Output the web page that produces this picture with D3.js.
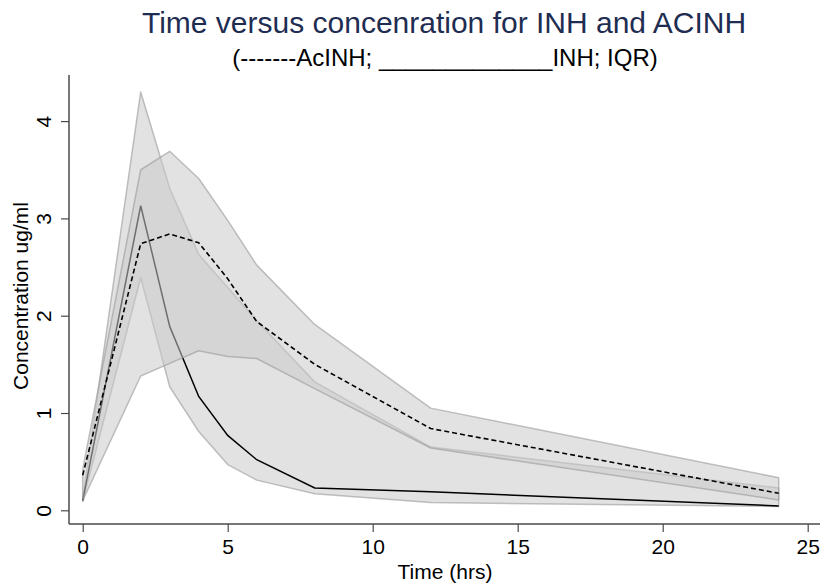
<!DOCTYPE html>
<html>
<head>
<meta charset="utf-8">
<script src="https://cdn.jsdelivr.net/npm/d3@7/dist/d3.min.js"></script>
<style>
  body { margin: 0; background: #fff; }
  text { font-family: "Liberation Sans", Arial, sans-serif; }
</style>
</head>
<body>
<script>
// sampling times (hrs)
const time = [0, 2, 3, 4, 5, 6, 8, 12, 24]

// INH: median and interquartile range
const inhMedian = [0.1, 3.13, 1.89, 1.17, 0.77, 0.52, 0.23, 0.19, 0.045]
const inhQ1 = [0.09, 2.39, 1.27, 0.81, 0.47, 0.31, 0.17, 0.08, 0.04]
const inhQ3 = [0.12, 4.3, 3.31, 2.63, 2.29, 1.95, 1.32, 0.65, 0.23]

// AcINH: median and interquartile range
const acinhMedian = [0.36, 2.74, 2.84, 2.75, 2.38, 1.94, 1.5, 0.84, 0.175]
const acinhQ1 = [0.1, 1.38, 1.51, 1.64, 1.58, 1.56, 1.25, 0.64, 0.106]
const acinhQ3 = [0.42, 3.5, 3.69, 3.41, 2.98, 2.52, 1.91, 1.05, 0.335]

const xTicks = [0, 5, 10, 15, 20, 25]
const yTicks = [0, 1, 2, 3, 4]

const width = 824
const height = 584

const svg = d3.select('body').append('svg')
  .attr('width', width).attr('height', height)

const x = d3.scaleLinear().domain([0, 25]).range([82.7, 807.7])
const y = d3.scaleLinear().domain([0, 4]).range([510.3, 121.1])

const rows = (lo, hi) => time.map((t, i) => ({ t, lo: lo[i], hi: hi[i] }))

const band = d3.area()
  .x(d => x(d.t)).y0(d => y(d.lo)).y1(d => y(d.hi))

const line = d3.line().x(d => x(d.t)).y(d => y(d.v))
const pts = vals => time.map((t, i) => ({ t, v: vals[i] }))

const drawBand = (lo, hi) => {
  svg.append('path')
    .attr('d', band(rows(lo, hi)))
    .attr('fill', '#cacaca').attr('fill-opacity', 0.55)
    .attr('stroke', '#9a9a9a').attr('stroke-opacity', 0.6)
    .attr('stroke-width', 1.5).attr('stroke-linejoin', 'round')
}

// INH band + median, then AcINH band on top (covers part of the INH line)
drawBand(inhQ1, inhQ3)
svg.append('path')
  .attr('d', line(pts(inhMedian)))
  .attr('fill', 'none').attr('stroke', '#000').attr('stroke-width', 1.5)

drawBand(acinhQ1, acinhQ3)
svg.append('path')
  .attr('d', line(pts(acinhMedian)))
  .attr('fill', 'none').attr('stroke', '#000').attr('stroke-width', 1.6)
  .attr('stroke-dasharray', '5,3')

// axes
const axisColor = '#4a4a4a'
svg.append('line').attr('x1', 69).attr('x2', 820).attr('y1', 524).attr('y2', 524)
  .attr('stroke', axisColor).attr('stroke-width', 1.5)
svg.append('line').attr('x1', 69).attr('x2', 69).attr('y1', 75).attr('y2', 524)
  .attr('stroke', axisColor).attr('stroke-width', 1.5)

const gx = svg.append('g').attr('transform', 'translate(0,524)')
  .call(d3.axisBottom(x).tickValues(xTicks).tickFormat(d3.format('d')).tickSize(8).tickPadding(7))
gx.select('.domain').remove()
gx.selectAll('line').attr('stroke', axisColor).attr('stroke-width', 1.2)
gx.selectAll('text').attr('font-size', 21).attr('fill', '#000')
  .attr('font-family', '"Liberation Sans", Arial, sans-serif')

const gy = svg.append('g').attr('transform', 'translate(69,0)')
  .call(d3.axisLeft(y).tickValues(yTicks).tickFormat(d3.format('d')).tickSize(8))
gy.select('.domain').remove()
gy.selectAll('line').attr('stroke', axisColor).attr('stroke-width', 1.2)
gy.selectAll('text')
  .attr('font-size', 21).attr('fill', '#000')
  .attr('font-family', '"Liberation Sans", Arial, sans-serif')
  .attr('text-anchor', 'middle').attr('dy', null).attr('x', null)
  .attr('transform', 'translate(-18,0) rotate(-90)')

// axis titles
svg.append('text')
  .attr('x', 445).attr('y', 579).attr('text-anchor', 'middle')
  .attr('font-size', 21).text('Time (hrs)')
svg.append('text')
  .attr('transform', 'translate(28,296) rotate(-90)')
  .attr('text-anchor', 'middle').attr('font-size', 21)
  .text('Concentration ug/ml')

// title and subtitle
svg.append('text')
  .attr('x', 444).attr('y', 33).attr('text-anchor', 'middle')
  .attr('font-size', 30).attr('fill', '#1f2d52')
  .text('Time versus concenration for INH and ACINH')
svg.append('text')
  .attr('x', 445).attr('y', 66).attr('text-anchor', 'middle')
  .attr('font-size', 24).attr('fill', '#000')
  .text('(-------AcINH; _____________INH; IQR)')
</script>
</body>
</html>
